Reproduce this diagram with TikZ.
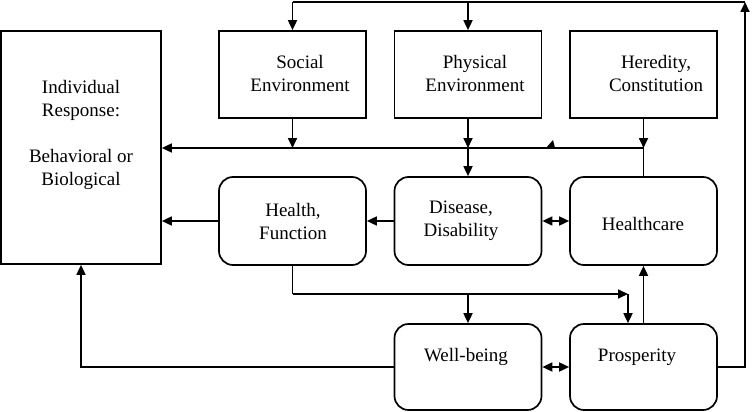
\documentclass[tikz,border=0pt]{standalone}
\usepackage{fontspec}
\setmainfont{Liberation Serif}
\usetikzlibrary{arrows.meta}
\begin{document}
\begin{tikzpicture}[x=1pt,y=-1pt,
  box/.style={draw, line width=1.7pt, minimum width=147pt, minimum height=87pt, inner sep=0pt},
  rbox/.style={box, rounded corners=14pt},
  txt/.style={align=center, inner sep=0pt, font=\fontsize{19}{23}\selectfont},
  line/.style={line width=1.7pt},
  conn/.style={line width=1.7pt, -{Triangle[length=10pt,width=9pt]}},
  dbl/.style={line width=1.7pt, {Triangle[length=10pt,width=9pt]}-{Triangle[length=10pt,width=9pt]}}]
\useasboundingbox (0,0) rectangle (752,412);

% boxes
\node[box, minimum width=160pt, minimum height=233pt] (ind) at (81,147.5) {};
\node[box] (soc) at (292.5,74.5) {};
\node[box] (phys) at (468,74.5) {};
\node[box] (her) at (643.5,74.5) {};
\node[rbox, minimum height=88pt] (hf) at (292.5,221) {};
\node[rbox, minimum height=88pt] (dis) at (468,221) {};
\node[rbox, minimum height=88pt] (hc) at (643.5,221) {};
\node[rbox, minimum height=86pt] (wb) at (468,367) {};
\node[rbox, minimum height=86pt] (pros) at (643.5,367) {};

% texts
\node[txt] (tind) at (81,135) {Individual\\Response:\\[23pt]Behavioral or\\Biological};
\node[txt] (tsoc) at (300,74) {Social\\Environment};
\node[txt] (tphys) at (475,74) {Physical\\Environment};
\node[txt] (ther) at (656,74) {Heredity,\\Constitution};
\node[txt] (thf) at (293,221) {Health,\\Function};
\node[txt] (tdis) at (461,221) {Disease,\\Disability};
\node[txt] (thc) at (643,224) {Healthcare};
\node[txt] (twb) at (466,357) {Well-being};
\node[txt] (tpros) at (637,357) {Prosperity};

% coordinates
\coordinate (tr) at (745,2);
\coordinate (tl) at (292.5,2);
\coordinate (mid) at (643.5,148);
\coordinate (hb) at (292.5,294);
\coordinate (pc) at (628,294);

% top feedback loop
\draw[conn] (pros.east) -| (tr);
\draw[line] (tr) -- (tl);
\draw[conn] (tl) -- (soc.north);
\draw[conn] (phys.north |- tr) -- (phys.north);

% middle horizontal line
\draw[line] (hc.north) -- (mid);
\draw[conn] (mid) -- (ind.east |- mid);
\draw[conn] (her.south) -- (mid);
\draw[conn] (soc.south) -- (soc.south |- mid);
\draw[conn] (phys.south) -- (phys.south |- mid);
\draw[conn] (phys.south |- mid) -- (dis.north);
\fill (546,148) -- (555,148) -- (553,140) -- cycle;

% row 2
\draw[conn] (hf.west) -- (ind.east |- hf.west);
\draw[conn] (dis.west) -- (hf.east);
\draw[dbl] (dis.east) -- (hc.west);

% health to well-being / prosperity
\draw[line] (hf.south) -- (hb);
\draw[conn] (hb) -- (pc);
\draw[conn] (pc) -- (pc |- pros.north);
\draw[conn] (wb.north |- hb) -- (wb.north);
\draw[conn] (pros.north) -- (hc.south);
\draw[dbl] (wb.east) -- (pros.west);
\draw[conn] (wb.west) -| (ind.south);
\end{tikzpicture}
\end{document}
